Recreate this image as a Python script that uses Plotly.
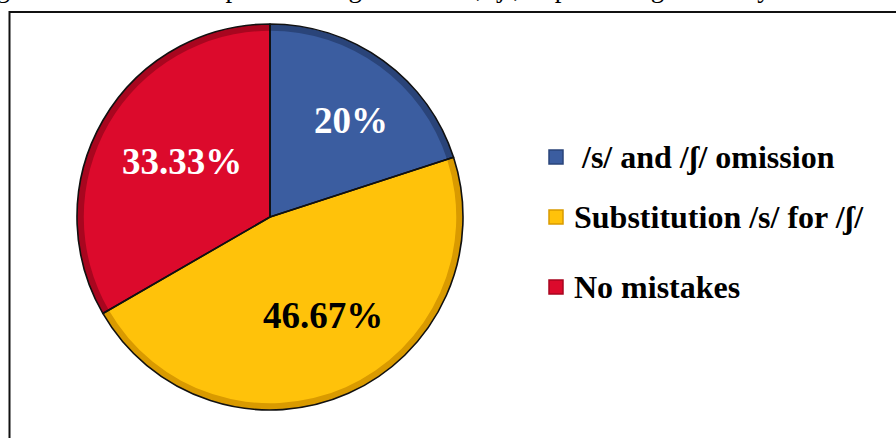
import math
import plotly.graph_objects as go

# Data
categories = [" /s/ and /ʃ/ omission", "Substitution /s/ for /ʃ/", "No mistakes"]
percentages = [20.0, 46.67, 33.33]
slice_colors = ["#3B5DA0", "#FFC20A", "#DC0A2C"]
rim_colors = ["#2A4479", "#D99A00", "#A8061F"]
label_colors = ["white", "black", "white"]
caption = "Figure 4. The errors of pronouncing sounds /s/, /ʃ/, in producing words by the students"

W, H = 896, 438
CX, CY, R = 270, 217, 193  # pie centre / radius in pixels (top-left origin)
domain = dict(x=[(CX - R) / W, (CX + R) / W], y=[(H - CY - R) / H, (H - CY + R) / H])
common = dict(labels=categories, values=percentages, sort=False, direction="clockwise",
              rotation=0, textinfo="none", hoverinfo="skip", showlegend=False, domain=domain)

fig = go.Figure()
# Flat slice fills
fig.add_trace(go.Pie(marker=dict(colors=slice_colors, line=dict(width=0)), **common))
# Darker bevel rim along the outer edge
fig.add_trace(go.Pie(hole=0.965, marker=dict(colors=rim_colors, line=dict(width=0)), **common))
# Black outline on top
fig.add_trace(go.Pie(marker=dict(colors=["rgba(0,0,0,0)"] * 3,
                                 line=dict(color="#111111", width=1.6)), **common))

# Percentage labels placed along each slice's bisector
label_radius = [0.65, 0.58, 0.54]
label_shift = [4, -4, 2]  # degrees
total = sum(percentages)
start = 0.0
annotations = []
for val, col, rf, dth in zip(percentages, label_colors, label_radius, label_shift):
    mid = (start + val / 2) / total * 360 + dth
    start += val
    px = CX + rf * R * math.sin(math.radians(mid))
    py = CY - rf * R * math.cos(math.radians(mid))
    annotations.append(dict(
        x=px / W, y=1 - py / H, xref="paper", yref="paper",
        text=f"<b>{val:g}%</b>", showarrow=False,
        font=dict(family="Liberation Serif", size=37, color=col),
        xanchor="center", yanchor="middle",
    ))

# Legend drawn as squares and labels
shapes = []
legend_y = [157, 217, 287]
for name, col, rim, ly in zip(categories, slice_colors, rim_colors, legend_y):
    shapes.append(dict(
        type="rect", xref="paper", yref="paper",
        x0=549 / W, x1=563 / W, y0=1 - (ly + 7) / H, y1=1 - (ly - 7) / H,
        fillcolor=col, line=dict(color=rim, width=1.5),
    ))
    annotations.append(dict(
        x=572 / W, y=1 - ly / H, xref="paper", yref="paper",
        text=f"<b>{name}</b>", showarrow=False,
        font=dict(family="Liberation Serif", size=32, color="black"),
        xanchor="left", yanchor="middle",
    ))

# Frame around the chart area
shapes.append(dict(
    type="rect", xref="paper", yref="paper",
    x0=9.5 / W, x1=1.05, y0=-0.05, y1=1 - 12 / H,
    line=dict(color="#111111", width=2), fillcolor="rgba(0,0,0,0)",
))

# Caption line above the frame
annotations.append(dict(
    x=-28 / W, y=1 - 5 / H, xref="paper", yref="paper",
    text=caption, showarrow=False,
    font=dict(family="Liberation Serif", size=27, color="black"),
    xanchor="left", yanchor="bottom",
))

fig.update_layout(
    width=W, height=H,
    margin=dict(l=0, r=0, t=0, b=0),
    paper_bgcolor="white", plot_bgcolor="white",
    shapes=shapes, annotations=annotations,
)
fig.write_html("out.html")
